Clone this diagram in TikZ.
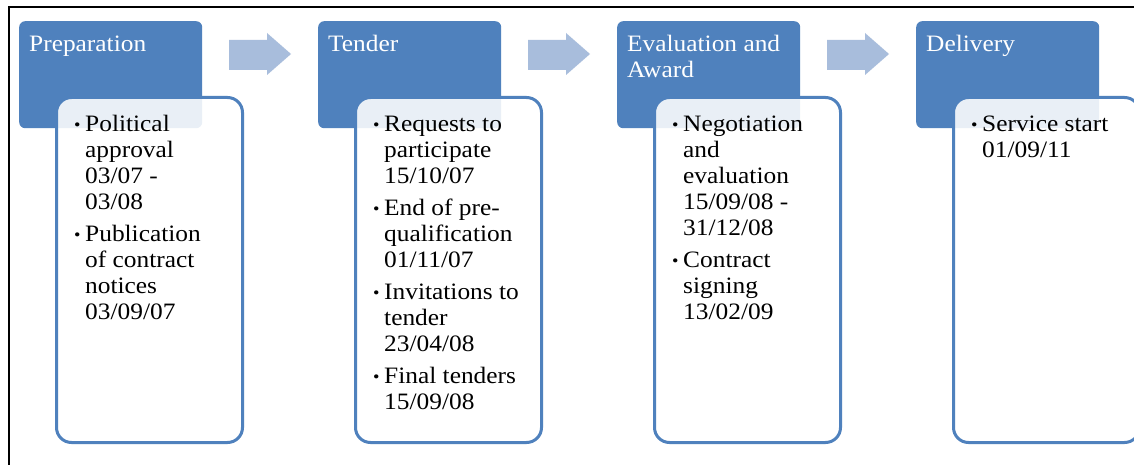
\documentclass[tikz,border=0pt]{standalone}
\usepackage{fontspec}
\setmainfont[FakeStretch=1.08]{Liberation Serif}

\definecolor{hdrblue}{RGB}{79,129,189}
\definecolor{arrowblue}{RGB}{168,189,220}

% bullet item with hanging indent; lines inside an item are broken with \newline
\newcommand\bul{\par\hangindent=11pt\hangafter=1\noindent
  \makebox[11pt][l]{\raisebox{1.5pt}{\fontsize{17}{17}\selectfont •}}}
\newcommand\itemlist[1]{\parbox[t]{175pt}{\fontsize{23.5}{25.8}\selectfont
  \parskip=6.5pt\parindent=0pt #1}}
\newcommand\headtext[1]{\parbox[t]{175pt}{\fontsize{23.5}{26}\selectfont
  \raggedright #1}}

\tikzset{
  header/.style={fill=hdrblue, rounded corners=6pt, minimum width=183pt,
    minimum height=107pt, inner sep=0pt, anchor=north west},
  card/.style={draw=hdrblue, line width=3pt, fill=white, fill opacity=0.88,
    rounded corners=15pt, minimum width=186pt, minimum height=345pt,
    inner sep=0pt, anchor=north west},
  htxt/.style={text=white, inner sep=0pt, anchor=base west},
  itxt/.style={text=black, inner sep=0pt, anchor=base west},
  flow/.style={fill=arrowblue},
  frame/.style={line width=2pt, black}
}

\begin{document}
\begin{tikzpicture}[x=1pt,y=-1pt]
\useasboundingbox (0,0) rectangle (1134,465);
\fill[white] (0,0) rectangle (1134,465);

% outer frame (top and left edges)
\draw[frame] (9,465) -- (9,7.5) -- (1134,7.5);

% stage headers
\foreach \x/\n in {19/1,318/2,617/3,916/4}{
  \node[header] (h\n) at (\x,21) {};
}
% process arrows between headers
\foreach \x/\n in {19/1,318/2,617/3}{
  \fill[flow] (\x+210,40) -- (\x+248,40) -- (\x+248,33) -- (\x+272,54)
     -- (\x+248,75) -- (\x+248,70) -- (\x+210,70) -- cycle;
}
% detail cards
\foreach \x/\n in {19/1,318/2,617/3,916/4}{
  \node[card] (c\n) at (\x+36,96) {};
}

% header titles
\node[htxt] (ht1) at (29,52) {\headtext{Preparation}};
\node[htxt] (ht2) at (328,52) {\headtext{Tender}};
\node[htxt] (ht3) at (627,52) {\headtext{Evaluation and\\Award}};
\node[htxt] (ht4) at (926,52) {\headtext{Delivery}};

% card contents
\node[itxt] (t1) at (74,132) {\itemlist{%
  \bul Political\newline approval\newline 03/07 -\newline 03/08
  \bul Publication\newline of contract\newline notices\newline 03/09/07}};
\node[itxt] (t2) at (373,132) {\itemlist{%
  \bul Requests to\newline participate\newline 15/10/07
  \bul End of pre-\newline qualification\newline 01/11/07
  \bul Invitations to\newline tender\newline 23/04/08
  \bul Final tenders\newline 15/09/08}};
\node[itxt] (t3) at (672,132) {\itemlist{%
  \bul Negotiation\newline and\newline evaluation\newline 15/09/08 -\newline 31/12/08
  \bul Contract\newline signing\newline 13/02/09}};
\node[itxt] (t4) at (971,132) {\itemlist{%
  \bul Service start\newline 01/09/11}};
\end{tikzpicture}
\end{document}
